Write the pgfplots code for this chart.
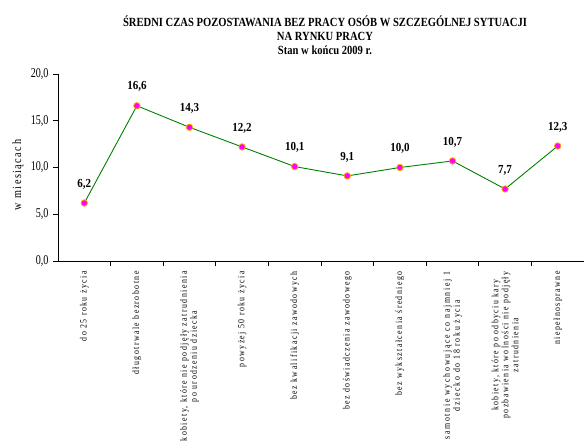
\documentclass[border=0pt]{standalone}
\usepackage{fontspec}
\setmainfont{Liberation Serif}[FakeStretch=0.82]
\newfontfamily\spaced{Liberation Serif}[FakeStretch=0.82, LetterSpace=15]
\newfontfamily\spacedB{Liberation Serif}[FakeStretch=0.82, LetterSpace=18]
\newfontfamily\yspaced{Liberation Serif}[FakeStretch=0.82, LetterSpace=12]
\newfontfamily\ytf{Liberation Serif}[FakeStretch=0.75]
\newfontfamily\labf{Liberation Serif}[FakeStretch=0.9]
\newfontfamily\titf{Liberation Serif}[FakeStretch=0.85]
\usepackage{pgfplots}
\pgfplotsset{compat=1.18}
\definecolor{lineg}{RGB}{0,128,0}
\definecolor{mk}{RGB}{255,0,255}
\definecolor{mkedge}{RGB}{255,160,0}
\begin{document}
\begin{tikzpicture}[x=1bp,y=1bp]
\useasboundingbox (0,0) rectangle (587,441);
\begin{axis}[
  at={(58bp,180bp)}, anchor=south west,
  scale only axis, width=526bp, height=187bp,
  xmin=-0.5, xmax=9.5, ymin=0, ymax=20,
  axis lines=left, axis line style={-, black, line width=0.9pt},
  ytick={0,5,10,15,20},
  /pgf/number format/fixed, /pgf/number format/precision=1, /pgf/number format/fixed zerofill, /pgf/number format/use comma, /pgf/number format/assume math mode=true,
  y tick label style={font=\ytf\fontsize{13.5}{14}\selectfont, xshift=-1bp},
  xtick={0,...,9},
  major x tick style={draw=none},
  minor xtick={0.5,1.5,...,8.5},
  tick align=outside,
  major tick length=5bp, minor tick length=5bp,
  tick style={black, line width=0.8pt},
  xticklabels={
    do 25 roku życia,
    długotrwale bezrobotne,
    {kobiety, które nie podjęły zatrudnienia\\po urodzeniu dziecka},
    powyżej 50 roku życia,
    bez kwalifikacji zawodowych,
    bez doświadczenia zawodowego,
    bez wykształcenia średniego,
    {\spacedB samotnie wychowujące co najmniej 1\\\spacedB dziecko do 18 roku życia},
    {kobiety, które po odbyciu kary\\pozbawienia wolności nie podjęły\\zatrudnienia},
    niepełnosprawne},
  x tick label style={rotate=90, anchor=east, align=center, font=\spaced\fontsize{9.6}{10}\selectfont, xshift=-2bp},
  clip=false,
  nodes near coords,
  every node near coord/.append style={font=\labf\bfseries\fontsize{12.3}{13}\selectfont, anchor=center, yshift=19bp, black},
]
\addplot[lineg, line width=0.9pt, mark=*, mark size=3.2bp, mark options={fill=mk, draw=mkedge, line width=0.8pt}]
coordinates {(0,6.2) (1,16.6) (2,14.3) (3,12.2) (4,10.1) (5,9.1) (6,10.0) (7,10.7) (8,7.7) (9,12.3)};
\end{axis}
\node[font=\titf\bfseries\fontsize{12.5}{13}\selectfont] at (325,420) {ŚREDNI CZAS  POZOSTAWANIA BEZ PRACY OSÓB W SZCZEGÓLNEJ SYTUACJI};
\node[font=\titf\bfseries\fontsize{12.5}{13}\selectfont] at (325,405) {NA RYNKU PRACY};
\node[font=\titf\bfseries\fontsize{12.5}{13}\selectfont] at (325,391) {Stan  w końcu 2009 r.};
\node[rotate=90, font=\yspaced\fontsize{12.5}{13}\selectfont] at (18,266) {w miesiącach};
\end{tikzpicture}
\end{document}
